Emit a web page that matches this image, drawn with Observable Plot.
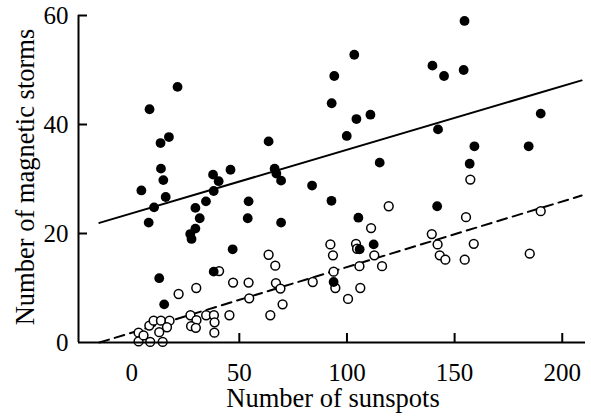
<!DOCTYPE html>
<html><head><meta charset="utf-8">
<script src="https://cdn.jsdelivr.net/npm/d3@7"></script>
<script src="https://cdn.jsdelivr.net/npm/@observablehq/plot@0.6"></script>
<style>
body{margin:0;background:#fff;}
#chart svg{font-family:"Liberation Serif","Times New Roman",serif;}
</style></head><body><div id="chart"></div>
<script>
// Filled circles: [sunspots, magnetic storms]
const filledPoints = [
  [21.3,46.9],[8.3,42.8],[17.3,37.7],[13.4,36.6],[13.6,31.9],[14.7,29.8],[4.5,27.9],[15.8,26.7],[10.4,24.8],[7.9,22.0],[12.8,11.8],[15.1,7.0],
  [45.9,31.7],[37.8,30.8],[40.4,29.6],[38.1,27.8],[34.5,25.9],[29.6,24.7],[31.6,22.8],[29.6,20.9],[27.2,19.9],[27.8,19.0],[54.3,25.9],[53.9,22.8],[46.9,17.1],[38.1,13.0],[66.4,31.9],[67.2,31.0],[69.4,29.7],[69.4,22.0],[63.6,36.9],
  [103.4,52.8],[94.1,48.9],[92.9,43.9],[104.4,41.0],[110.9,41.8],[99.9,37.9],[115.2,33.0],[83.8,28.8],[92.8,26.0],
  [105.3,22.9],[105.9,17.1],[112.4,18.0],[93.8,11.1],
  [154.6,59.0],[139.7,50.8],[145.1,48.9],[154.2,50.0],[142.3,39.1],[159.2,36.0],[157.0,32.8],[184.4,36.0],[190.0,42.0],[141.9,25.0]
];
// Open circles: [sunspots, magnetic storms]
const openPoints = [
  [3.2,1.8],[3.2,0.2],[8.6,0.1],[14.4,0.1],[8.2,3.1],[10.2,4.0],[13.6,4.0],[17.6,4.0],[16.4,2.8],[12.8,1.9],[5.5,1.3],[21.8,8.9],[30.0,10.0],
  [27.3,5.0],[30.1,4.1],[27.6,3.0],[29.8,2.7],[34.6,5.0],[38.2,5.0],[38.5,3.7],[38.4,1.8],[45.4,5.0],
  [40.6,13.1],[47.1,11.0],[54.3,11.0],[54.6,8.1],[63.6,16.1],[66.7,14.1],[67.0,10.9],[69.1,9.9],[70.1,7.0],[64.4,5.0],[84.1,11.1],
  [92.3,18.0],[93.5,16.0],[93.8,13.0],[94.6,10.0],[100.5,8.0],[104.2,18.1],[104.7,17.2],[105.8,14.0],[106.2,10.0],[111.2,21.0],[112.7,16.0],[116.3,14.0],[119.4,25.0],
  [139.4,19.9],[142.1,18.0],[143.1,16.0],[145.7,15.2],[154.7,15.2],[158.9,18.1],[155.3,23.0],[157.3,29.9],[184.9,16.3],[190.0,24.1]
];
// Fitted regression lines
const solidFit = {intercept: 23.7, slope: 0.1167, from: -15, to: 209};
const dashedFit = {intercept: 1.8, slope: 0.1204, from: -15, to: 209};

const xTickLabels = [0, 50, 100, 150, 200];
const xTickMarks = [50, 100, 150, 200];
const yTickLabels = [0, 20, 40, 60];
const yTickMarks = [20, 40, 60];
const xDomain = [-24.7, 210.8];
const yDomain = [0, 60];
const xTitle = "Number of sunspots";
const yTitle = "Number of magnetic storms";

const fitLine = f => [f.from, f.to].map(x => ({x, y: f.intercept + f.slope * x}));

const chart = Plot.plot({
  width: 591,
  height: 417,
  marginLeft: 78,
  marginRight: 6,
  marginTop: 15,
  marginBottom: 75,
  x: {domain: xDomain},
  y: {domain: yDomain},
  marks: [
    Plot.line(fitLine(solidFit), {x: "x", y: "y", stroke: "black", strokeWidth: 2}),
    Plot.line(fitLine(dashedFit), {x: "x", y: "y", stroke: "black", strokeWidth: 2, strokeDasharray: "10,6"}),
    Plot.dot(openPoints, {x: d => d[0], y: d => d[1], r: 4.4, fill: "white", stroke: "black", strokeWidth: 1.5}),
    Plot.dot(filledPoints, {x: d => d[0], y: d => d[1], r: 4.9, fill: "black", stroke: "none"}),
    Plot.ruleY([yDomain[0]], {stroke: "black", strokeWidth: 2}),
    Plot.ruleX([xDomain[0]], {stroke: "black", strokeWidth: 2}),
    Plot.axisX(xTickMarks, {tickSize: 9, dy: -9, strokeWidth: 2, tickFormat: () => "", label: null}),
    Plot.axisX(xTickLabels, {tickSize: 0, tickPadding: 20.5, fontSize: 25, fill: "black", label: null}),
    Plot.axisY(yTickMarks, {tickSize: 9, dx: 9, strokeWidth: 2, tickFormat: () => "", label: null}),
    Plot.axisY(yTickLabels, {tickSize: 0, tickPadding: 10, fontSize: 25, fill: "black", label: null}),
    Plot.text([xTitle], {text: d => d, frameAnchor: "bottom", dy: 56.5, dx: 1, lineAnchor: "middle", textAnchor: "middle", fontSize: 26.5, fill: "black"}),
    Plot.text([yTitle], {text: d => d, frameAnchor: "left", rotate: -90, dx: -53, dy: -2, lineAnchor: "middle", textAnchor: "middle", fontSize: 26.5, fill: "black"})
  ]
});
document.getElementById("chart").appendChild(chart);
</script></body></html>
